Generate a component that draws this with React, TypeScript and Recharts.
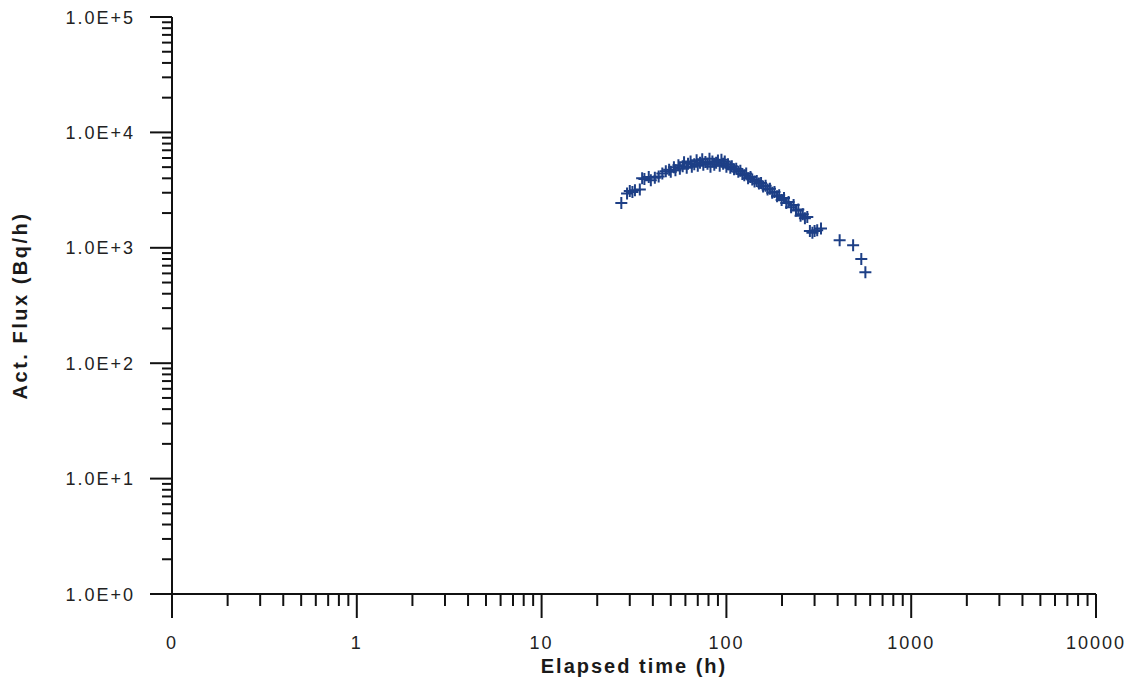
import React from 'react';
import { ScatterChart, Scatter, XAxis, YAxis } from 'recharts';

const elapsedHours = [
  27, 29, 30, 31, 32, 34, 35, 36, 38, 39, 41, 43, 45, 47, 49, 50, 52, 53, 55, 56,
  58, 59, 61, 62, 64, 65, 67, 69, 70, 72, 74, 75, 77, 79, 81, 82, 84, 86, 88, 90,
  92, 94, 96, 98, 100, 102, 105, 107, 110, 113, 116, 119, 122, 125, 128, 131, 135, 138, 142, 146,
  150, 154, 158, 163, 167, 172, 177, 182, 188, 193, 199, 205, 211, 217, 224, 231, 238, 245, 252, 259,
  266, 274, 283, 292, 300, 310, 325, 410, 485, 537, 565,
];
const actFlux = [
  2450, 2950, 3100, 3050, 3150, 3200, 4000, 3950, 4100, 3850, 4050, 4150, 4400, 4600, 4750, 4550, 5000, 4700, 5200, 4850,
  5100, 5500, 4950, 5350, 5600, 5050, 5300, 5750, 5150, 5450, 5850, 5250, 5550, 5350, 5900, 5050, 5600, 5250, 5450, 5700,
  5150, 5800, 5350, 5600, 5050, 5300, 4950, 5100, 4800, 4850, 4550, 4650, 4350, 4250, 4400, 4000, 4100, 3900, 3750, 3800,
  3600, 3650, 3400, 3450, 3200, 3250, 3000, 3050, 2800, 2850, 2600, 2700, 2450, 2500, 2250, 2350, 2100, 2150, 1900, 1950,
  1800, 1850, 1400, 1350, 1400, 1420, 1470, 1160, 1050, 800, 615,
];

const xMajorTicks = [0.1, 1, 10, 100, 1000, 10000];
const xTickLabels = ['0', '1', '10', '100', '1000', '10000'];
const yMajorTicks = [1, 10, 100, 1000, 10000, 100000];
const yTickLabels = ['1.0E+0', '1.0E+1', '1.0E+2', '1.0E+3', '1.0E+4', '1.0E+5'];
const minorMultipliers = [2, 3, 4, 5, 6, 7, 8, 9];

const xTitle = 'Elapsed time (h)';
const yTitle = 'Act. Flux (Bq/h)';

const data = elapsedHours.map((h, i) => ({ h, f: actFlux[i] }));

const withMinors = (majors: number[]) => {
  const out: number[] = [];
  majors.forEach((m, i) => {
    out.push(m);
    if (i < majors.length - 1) minorMultipliers.forEach((k) => out.push(m * k));
  });
  return out;
};
const xTicks = withMinors(xMajorTicks);
const yTicks = withMinors(yMajorTicks);

const FONT = '"Liberation Sans", Arial, Helvetica, sans-serif';
const INK = '#111';
const MARK = '#1d3f86';

const majorIndex = (majors: number[], v: number) =>
  majors.findIndex((m) => Math.abs(m - v) / m < 1e-9);

const XTick = (props: any) => {
  const { x, y, payload } = props;
  const idx = majorIndex(xMajorTicks, payload.value);
  const major = idx >= 0;
  return (
    <g>
      <line x1={x} x2={x} y1={y} y2={y + (major ? 24 : 12)} stroke={INK} strokeWidth={2} />
      {major && (
        <text x={x} y={y + 55} textAnchor="middle" fontFamily={FONT} fontSize={18}
          letterSpacing={2} fill="#222">
          {xTickLabels[idx]}
        </text>
      )}
    </g>
  );
};

const YTick = (props: any) => {
  const { x, y, payload } = props;
  const idx = majorIndex(yMajorTicks, payload.value);
  const major = idx >= 0;
  return (
    <g>
      <line x1={x - (major ? 22 : 10)} x2={x} y1={y} y2={y} stroke={INK} strokeWidth={2} />
      {major && (
        <text x={x - 37} y={y + 6.5} textAnchor="end" fontFamily={FONT} fontSize={18}
          letterSpacing={2} fill="#222">
          {yTickLabels[idx]}
        </text>
      )}
    </g>
  );
};

const Cross = (props: any) => {
  const { cx, cy } = props;
  if (cx == null || cy == null) return null;
  return (
    <path d={`M${cx - 6},${cy}H${cx + 6}M${cx},${cy - 6}V${cy + 6}`} stroke={MARK} strokeWidth={2} fill="none" />
  );
};

export default function App() {
  return (
    <ScatterChart width={1125} height={672} margin={{ top: 9, right: 37, bottom: 0, left: 0 }}>
      <XAxis
        dataKey="h"
        type="number"
        scale="log"
        domain={[0.1, 10000]}
        allowDataOverflow
        ticks={xTicks}
        interval={0}
        tickSize={0}
        tickMargin={0}
        tickLine={false}
        tick={<XTick />}
        axisLine={{ stroke: INK, strokeWidth: 2 }}
        height={86}
        label={{
          content: (p: any) => {
            const vb = p.viewBox;
            return (
              <text x={vb.x + vb.width / 2} y={vb.y + 79} textAnchor="middle" fontFamily={FONT}
                fontSize={20} fontWeight="bold" letterSpacing={2} fill="#1a1a1a">
                {xTitle}
              </text>
            );
          },
        }}
      />
      <YAxis
        dataKey="f"
        type="number"
        scale="log"
        domain={[1, 100000]}
        allowDataOverflow
        ticks={yTicks}
        interval={0}
        tickSize={0}
        tickMargin={0}
        tickLine={false}
        tick={<YTick />}
        axisLine={{ stroke: INK, strokeWidth: 2 }}
        width={164}
        label={{
          content: (p: any) => {
            const vb = p.viewBox;
            const cx = vb.x + 12;
            const cy = vb.y + vb.height / 2;
            return (
              <text x={cx} y={cy} transform={`rotate(-90, ${cx}, ${cy})`} textAnchor="middle"
                dominantBaseline="central" fontFamily={FONT} fontSize={20} fontWeight="bold"
                letterSpacing={2.5} fill="#1a1a1a">
                {yTitle}
              </text>
            );
          },
        }}
      />
      <Scatter data={data} shape={<Cross />} isAnimationActive={false} />
    </ScatterChart>
  );
}
